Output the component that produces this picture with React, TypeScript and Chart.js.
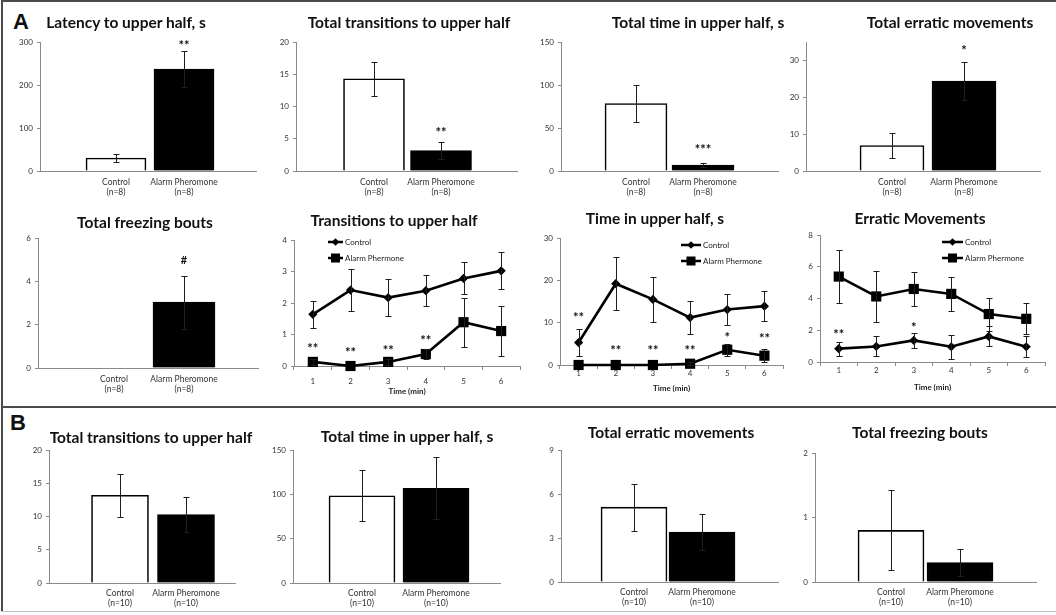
import React, { useEffect, useRef } from 'react';
import { Chart, registerables } from 'chart.js';

Chart.register(...registerables);

// ---------------- data ----------------
const groups = ['Control', 'Alarm Pheromone'];
const groupNA = ['(n=8)', '(n=8)'];
const groupNB = ['(n=10)', '(n=10)'];
const minutes = ['1', '2', '3', '4', '5', '6'];
const seriesNames = ['Control', 'Alarm Phermone'];

// Panel A – totals
const latencyMean = [30, 237];
const latencyErr = [9, 42];
const latencyTicks = [0, 100, 200, 300];
const latencySig = ['', '**'];
const latencySigAt = [null, 297];

const transTotalMean = [14.3, 3.15];
const transTotalErr = [2.65, 1.35];
const transTotalTicks = [0, 5, 10, 15, 20];
const transTotalSig = ['', '**'];
const transTotalSigAt = [null, 6.3];

const timeTotalMean = [78.5, 7];
const timeTotalErr = [21.5, 2.7];
const timeTotalTicks = [0, 50, 100, 150];
const timeTotalSig = ['', '***'];
const timeTotalSigAt = [null, 27.5];

const erraticTotalMean = [6.9, 24.4];
const erraticTotalErr = [3.3, 5.2];
const erraticTotalTicks = [0, 10, 20, 30];
const erraticTotalMax = 35;
const erraticTotalSig = ['', '*'];
const erraticTotalSigAt = [null, 33.3];

const freezeTotalMean = [0, 3.04];
const freezeTotalErr = [0, 1.22];
const freezeTotalTicks = [0, 2, 4, 6];
const freezeTotalSig = ['', '#'];
const freezeTotalSigAt = [null, 4.97];

// Panel A – per minute
const transCtrl = [1.64, 2.41, 2.17, 2.39, 2.78, 3.02];
const transCtrlErr = [0.42, 0.67, 0.58, 0.5, 0.51, 0.59];
const transAP = [0.13, 0, 0.13, 0.38, 1.39, 1.11];
const transAPErr = [0.1, 0, 0.1, 0.17, 0.78, 0.8];
const transTicks = [0, 1, 2, 3, 4];
const transSig = ['**', '**', '**', '**', '', ''];
const transSigAt = [0.65, 0.51, 0.58, 0.88, null, null];

const timeCtrl = [5.3, 19.2, 15.5, 11.2, 13.1, 13.9];
const timeCtrlErr = [3.1, 6.3, 5.3, 3.9, 3.6, 3.6];
const timeAP = [0, 0, 0, 0.3, 3.6, 2.2];
const timeAPErr = [0, 0, 0, 0.3, 1.4, 1.6];
const timeTicks = [0, 10, 20, 30];
const timeSig = ['**', '**', '**', '**', '*', '**'];
const timeSigAt = [11.9, 3.9, 3.9, 3.9, 7.2, 6.9];

const erraticCtrl = [0.84, 0.98, 1.36, 0.96, 1.61, 0.96];
const erraticCtrlErr = [0.45, 0.63, 0.46, 0.76, 0.63, 0.65];
const erraticAP = [5.38, 4.13, 4.6, 4.29, 3.02, 2.72];
const erraticAPErr = [1.65, 1.6, 1.1, 1.07, 1.04, 0.97];
const erraticTicks = [0, 2, 4, 6, 8];
const erraticSig = ['**', '', '*', '', '', ''];
const erraticSigAt = [1.88, null, 2.35, null, null, null];

// Panel B – totals
const bTransMean = [13.2, 10.3];
const bTransErr = [3.2, 2.6];
const bTransTicks = [0, 5, 10, 15, 20];

const bTimeMean = [98.4, 106.7];
const bTimeErr = [28.5, 35];
const bTimeTicks = [0, 50, 100, 150];

const bErraticMean = [5.1, 3.4];
const bErraticErr = [1.6, 1.23];
const bErraticTicks = [0, 3, 6, 9];

const bFreezeMean = [0.8, 0.3];
const bFreezeErr = [0.62, 0.21];
const bFreezeTicks = [0, 1, 2];

const noSig = ['', ''];
const noSigAt = [null, null];

// ---------------- style / layout ----------------
const AXIS = '#8a8a8a';
const TXT = '#333333';
const FONT = 'Lato, "Open Sans", sans-serif';
const YW = 40;
const PT = 12;
const PR = 10;
const BAR_XH = 30;

type Common = {
  title: string; tx: number; ty: number;
  ax: number; ar: number; yt: number; yb: number;
  ticks: number[]; yMax?: number;
  sig: string[]; sigAt: (number | null)[];
};
type BarSpec = Common & {
  kind: 'bar'; c0: number; c1: number; bw: number;
  mean: number[]; err: number[]; n: string[]; labPad: number;
};
type LineSpec = Common & {
  kind: 'line'; series: number[][]; errs: number[][];
  labPad: number; xh: number;
  leg: { x: number; y1: number; y2: number; len: number };
};
type Spec = BarSpec | LineSpec;

const specs: Spec[] = [
  { kind: 'bar', title: 'Latency to upper half, s', tx: 126, ty: 23, ax: 40, ar: 256, yt: 42, yb: 171,
    c0: 116, c1: 184, bw: 60, mean: latencyMean, err: latencyErr, n: groupNA, labPad: 5.5,
    ticks: latencyTicks, sig: latencySig, sigAt: latencySigAt },
  { kind: 'bar', title: 'Total transitions to upper half', tx: 409, ty: 23, ax: 296, ar: 517, yt: 42, yb: 171,
    c0: 374, c1: 441, bw: 61, mean: transTotalMean, err: transTotalErr, n: groupNA, labPad: 5.5,
    ticks: transTotalTicks, sig: transTotalSig, sigAt: transTotalSigAt },
  { kind: 'bar', title: 'Total time in upper half, s', tx: 698, ty: 23, ax: 561, ar: 778, yt: 42, yb: 171,
    c0: 636, c1: 703, bw: 62, mean: timeTotalMean, err: timeTotalErr, n: groupNA, labPad: 5.5,
    ticks: timeTotalTicks, sig: timeTotalSig, sigAt: timeTotalSigAt },
  { kind: 'bar', title: 'Total erratic movements', tx: 950, ty: 23, ax: 806, ar: 1040, yt: 42, yb: 171,
    c0: 892, c1: 964, bw: 64, mean: erraticTotalMean, err: erraticTotalErr, n: groupNA, labPad: 5.5,
    ticks: erraticTotalTicks, yMax: erraticTotalMax, sig: erraticTotalSig, sigAt: erraticTotalSigAt },
  { kind: 'bar', title: 'Total freezing bouts', tx: 145, ty: 223, ax: 38, ar: 258, yt: 238, yb: 368,
    c0: 114, c1: 184, bw: 62, mean: freezeTotalMean, err: freezeTotalErr, n: groupNA, labPad: 5.5,
    ticks: freezeTotalTicks, sig: freezeTotalSig, sigAt: freezeTotalSigAt },
  { kind: 'line', title: 'Transitions to upper half', tx: 394, ty: 221, ax: 294, ar: 520, yt: 240, yb: 366,
    series: [transCtrl, transAP], errs: [transCtrlErr, transAPErr], labPad: 7, xh: 32,
    ticks: transTicks, sig: transSig, sigAt: transSigAt,
    leg: { x: 328, y1: 242, y2: 258, len: 15 } },
  { kind: 'line', title: 'Time in upper half, s', tx: 655, ty: 219, ax: 560, ar: 783, yt: 238, yb: 365,
    series: [timeCtrl, timeAP], errs: [timeCtrlErr, timeAPErr], labPad: 0, xh: 30,
    ticks: timeTicks, sig: timeSig, sigAt: timeSigAt,
    leg: { x: 681, y1: 245, y2: 261, len: 20 } },
  { kind: 'line', title: 'Erratic Movements', tx: 920, ty: 219, ax: 820, ar: 1045, yt: 235, yb: 362,
    series: [erraticCtrl, erraticAP], errs: [erraticCtrlErr, erraticAPErr], labPad: 0, xh: 32,
    ticks: erraticTicks, sig: erraticSig, sigAt: erraticSigAt,
    leg: { x: 942, y1: 242, y2: 258, len: 21 } },
  { kind: 'bar', title: 'Total transitions to upper half', tx: 151, ty: 438, ax: 49, ar: 235, yt: 450, yb: 583,
    c0: 120, c1: 186, bw: 57, mean: bTransMean, err: bTransErr, n: groupNB, labPad: 4.5,
    ticks: bTransTicks, sig: noSig, sigAt: noSigAt },
  { kind: 'bar', title: 'Total time in upper half, s', tx: 407, ty: 437, ax: 293, ar: 500, yt: 450, yb: 583,
    c0: 362, c1: 436, bw: 66, mean: bTimeMean, err: bTimeErr, n: groupNB, labPad: 4.5,
    ticks: bTimeTicks, sig: noSig, sigAt: noSigAt },
  { kind: 'bar', title: 'Total erratic movements', tx: 671, ty: 433, ax: 561, ar: 778, yt: 450, yb: 582,
    c0: 634, c1: 702, bw: 66, mean: bErraticMean, err: bErraticErr, n: groupNB, labPad: 4.5,
    ticks: bErraticTicks, sig: noSig, sigAt: noSigAt },
  { kind: 'bar', title: 'Total freezing bouts', tx: 920, ty: 433, ax: 815, ar: 1036, yt: 453, yb: 582,
    c0: 891, c1: 960, bw: 66, mean: bFreezeMean, err: bFreezeErr, n: groupNB, labPad: 4.5,
    ticks: bFreezeTicks, sig: noSig, sigAt: noSigAt },
];

function geom(spec: Spec) {
  const xh = spec.kind === 'bar' ? BAR_XH : spec.xh;
  const left = spec.ax - YW;
  const top = spec.yt - PT;
  const width = spec.ar - left + PR;
  const height = spec.yb - top + xh;
  return { xh, left, top, width, height };
}

function diamond(ctx: CanvasRenderingContext2D, x: number, y: number, r: number) {
  ctx.beginPath();
  ctx.moveTo(x, y - r);
  ctx.lineTo(x + r, y);
  ctx.lineTo(x, y + r);
  ctx.lineTo(x - r, y);
  ctx.closePath();
  ctx.fill();
}

function makePlugin(spec: Spec, left: number, top: number) {
  return {
    id: 'decor',
    afterDatasetsDraw(chart: any) {
      const ctx: CanvasRenderingContext2D = chart.ctx;
      const ys = chart.scales.y;
      const xs = chart.scales.x;
      ctx.save();
      // error bars
      ctx.strokeStyle = '#1e1e1e';
      ctx.lineWidth = 1;
      const errSets = spec.kind === 'bar' ? [spec.err] : spec.errs;
      const valSets = spec.kind === 'bar' ? [spec.mean] : spec.series;
      errSets.forEach((errs, di) => {
        const meta = chart.getDatasetMeta(di);
        errs.forEach((e, j) => {
          if (!e) return;
          const px = Math.round(meta.data[j].x) + 0.5;
          const v = valSets[di][j];
          const t = Math.round(ys.getPixelForValue(v + e)) + 0.5;
          const b = Math.round(ys.getPixelForValue(v - e)) + 0.5;
          ctx.beginPath();
          ctx.moveTo(px, t); ctx.lineTo(px, b);
          ctx.moveTo(px - 3, t); ctx.lineTo(px + 3, t);
          ctx.moveTo(px - 3, b); ctx.lineTo(px + 3, b);
          ctx.stroke();
        });
      });
      // significance marks
      ctx.fillStyle = '#111';
      ctx.textAlign = 'center';
      spec.sig.forEach((s, j) => {
        const at = spec.sigAt[j];
        if (!s || at === null || at === undefined) return;
        const px = xs.getPixelForValue(j);
        const py = ys.getPixelForValue(at);
        if (s.includes('*')) {
          ctx.font = `bold 13px ${FONT}`;
          ctx.textBaseline = 'alphabetic';
          ctx.fillText(s, px, py + 7);
        } else {
          ctx.font = `bold 11px ${FONT}`;
          ctx.textBaseline = 'middle';
          ctx.fillText(s, px, py);
        }
      });
      // legend for line charts
      if (spec.kind === 'line') {
        const L = spec.leg;
        [L.y1, L.y2].forEach((yy, i) => {
          const x0 = L.x - left;
          const y0 = yy - top;
          ctx.strokeStyle = '#000';
          ctx.lineWidth = 2.5;
          ctx.beginPath();
          ctx.moveTo(x0, y0);
          ctx.lineTo(x0 + L.len, y0);
          ctx.stroke();
          ctx.fillStyle = '#000';
          const mx = x0 + L.len / 2;
          if (i === 0) diamond(ctx, mx, y0, 3.8);
          else ctx.fillRect(mx - 4.5, y0 - 4.5, 9, 9);
          ctx.fillStyle = '#222';
          ctx.font = `8px ${FONT}`;
          ctx.textAlign = 'left';
          ctx.textBaseline = 'middle';
          ctx.fillText(seriesNames[i], x0 + L.len + 2, y0);
        });
      }
      ctx.restore();
    },
  };
}

function yScale(spec: Spec) {
  return {
    min: 0,
    max: spec.yMax ?? spec.ticks[spec.ticks.length - 1],
    afterBuildTicks: (a: any) => { a.ticks = spec.ticks.map((v) => ({ value: v })); },
    ticks: { font: { family: FONT, size: 8 }, color: TXT, padding: 4 },
    grid: { display: true, drawOnChartArea: false, drawTicks: true, tickLength: 3, color: AXIS, lineWidth: 1 },
    border: { display: true, color: AXIS, width: 1 },
    afterFit: (a: any) => { a.width = YW; },
  };
}

function buildConfig(spec: Spec, xh: number, left: number, top: number): any {
  const common = {
    animation: false,
    responsive: false,
    maintainAspectRatio: false,
    devicePixelRatio: 1,
    events: [],
    layout: { padding: { top: PT, right: PR, left: 0, bottom: 0 } },
    plugins: { legend: { display: false }, tooltip: { enabled: false }, title: { display: false } },
  };
  if (spec.kind === 'bar') {
    const sp = spec.c1 - spec.c0;
    return {
      type: 'bar',
      data: {
        datasets: [{
          data: groups.map((_, i) => ({ x: i, y: spec.mean[i] })),
          backgroundColor: ['#ffffff', '#000000'],
          borderColor: '#000000',
          borderWidth: 1.6,
          barThickness: spec.bw,
        }],
      },
      options: {
        ...common,
        scales: {
          x: {
            type: 'linear',
            offset: false,
            min: (spec.ax - spec.c0) / sp,
            max: (spec.ar - spec.c0) / sp,
            afterBuildTicks: (a: any) => { a.ticks = groups.map((_, i) => ({ value: i })); },
            ticks: {
              callback: (v: any) => [groups[v], spec.n[v]],
              font: { family: FONT, size: 8.5, lineHeight: 1.25 },
              color: TXT, padding: spec.labPad, maxRotation: 0, minRotation: 0, autoSkip: false,
            },
            grid: { display: false, drawTicks: false, tickLength: 0, offset: false },
            border: { display: true, color: AXIS, width: 1 },
            afterFit: (a: any) => { a.height = xh; },
          },
          y: yScale(spec),
        },
      },
      plugins: [makePlugin(spec, left, top)],
    };
  }
  return {
    type: 'line',
    data: {
      labels: minutes,
      datasets: spec.series.map((vals, i) => ({
        label: seriesNames[i],
        data: vals,
        borderColor: '#000000',
        backgroundColor: '#000000',
        borderWidth: 2.6,
        pointStyle: i === 0 ? 'rectRot' : 'rect',
        pointRadius: i === 0 ? 4.6 : 7.2,
        pointBorderWidth: 0,
        pointBackgroundColor: '#000000',
        tension: 0,
        clip: false,
      })),
    },
    options: {
      ...common,
      scales: {
        x: {
          type: 'category',
          offset: true,
          grid: { display: true, drawOnChartArea: false, offset: true, tickLength: 4, color: AXIS },
          border: { display: true, color: AXIS, width: 1 },
          ticks: { font: { family: FONT, size: 8 }, color: TXT, padding: spec.labPad, maxRotation: 0, autoSkip: false },
          title: {
            display: true, text: 'Time (min)', color: '#222',
            font: { family: FONT, size: 8, weight: 'bold' }, padding: { top: 0, bottom: 1.5 },
          },
          afterFit: (a: any) => { a.height = xh; },
        },
        y: yScale(spec),
      },
    },
    plugins: [makePlugin(spec, left, top)],
  };
}

function Panel({ spec }: { spec: Spec }) {
  const ref = useRef<HTMLCanvasElement>(null);
  const g = geom(spec);
  useEffect(() => {
    const chart = new Chart(ref.current as HTMLCanvasElement, buildConfig(spec, g.xh, g.left, g.top));
    return () => chart.destroy();
  }, []);
  return (
    <>
      <canvas
        ref={ref}
        width={g.width}
        height={g.height}
        style={{ position: 'absolute', left: g.left, top: g.top, width: g.width, height: g.height }}
      />
      <div
        style={{
          position: 'absolute', left: spec.tx, top: spec.ty, transform: 'translate(-50%, -50%)',
          whiteSpace: 'nowrap', fontFamily: FONT, fontWeight: 700, fontSize: 15.5, color: '#111', lineHeight: 1,
        }}
      >
        {spec.title}
      </div>
    </>
  );
}

export default function App() {
  const line = (s: React.CSSProperties) => <div style={{ position: 'absolute', ...s }} />;
  return (
    <div style={{ position: 'absolute', left: 0, top: 0, width: 1056, height: 615, background: '#fff', overflow: 'hidden' }}>
      {line({ left: 1, top: 0, width: 1055, height: 2, background: '#4a4a4a' })}
      {line({ left: 1, top: 0, width: 2, height: 612, background: '#4a4a4a' })}
      {line({ left: 1, top: 406, width: 1055, height: 2, background: '#4a4a4a' })}
      {line({ left: 1, top: 611, width: 1055, height: 1, background: '#c4c4c4' })}
      <div style={{ position: 'absolute', left: 21, top: 22, transform: 'translate(-50%, -50%)', fontFamily: '"Liberation Sans", Arial, sans-serif', fontWeight: 700, fontSize: 22, lineHeight: 1, color: '#111' }}>A</div>
      <div style={{ position: 'absolute', left: 18, top: 423, transform: 'translate(-50%, -50%)', fontFamily: '"Liberation Sans", Arial, sans-serif', fontWeight: 700, fontSize: 22, lineHeight: 1, color: '#111' }}>B</div>
      {specs.map((s, i) => <Panel key={i} spec={s} />)}
    </div>
  );
}
